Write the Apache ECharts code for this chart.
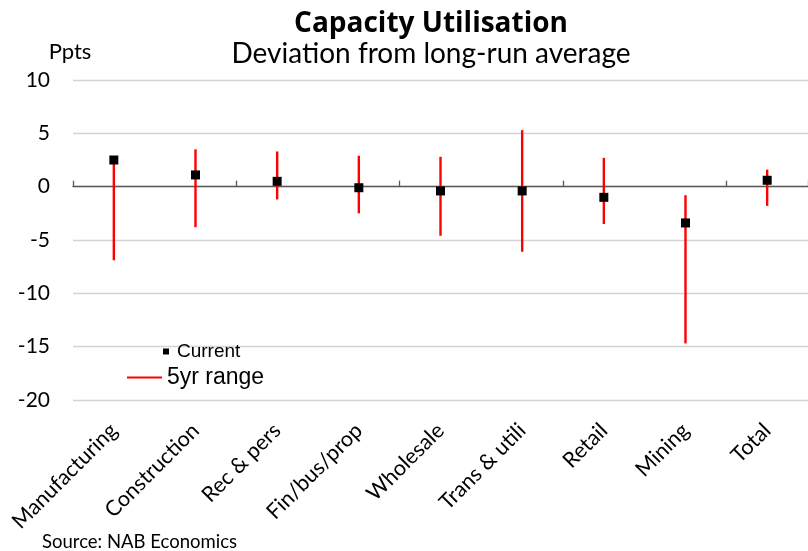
<!DOCTYPE html>
<html>
<head>
<meta charset="utf-8">
<script src="https://cdn.jsdelivr.net/npm/echarts@6/dist/echarts.min.js"></script>
<style>
html,body{margin:0;padding:0;background:#fff;}
#chart{width:808px;height:551px;}
</style>
</head>
<body>
<div id="chart"></div>
<script>
const categories = ['Manufacturing','Construction','Rec & pers','Fin/bus/prop','Wholesale','Trans & utili','Retail','Mining','Total'];
const current = [2.5, 1.1, 0.5, -0.1, -0.4, -0.4, -1.0, -3.4, 0.6];
const rangeHigh = [2.5, 3.5, 3.3, 2.9, 2.8, 5.3, 2.7, -0.8, 1.6];
const rangeLow = [-6.9, -3.8, -1.2, -2.5, -4.6, -6.1, -3.5, -14.7, -1.8];
const yTicks = {min: -20, max: 10, interval: 5};

const chart = echarts.init(document.getElementById('chart'), null, {renderer: 'canvas'});
const option = {
  animation: false,
  backgroundColor: '#fff',
  graphic: [
    {type: 'text', x: 431, y: 10, style: {text: 'Capacity Utilisation', font: 'bold 28px "Open Sans"', fill: '#000', textAlign: 'center', textVerticalAlign: 'top'}},
    {type: 'text', x: 431, y: 40, style: {text: 'Deviation from long-run average', font: '28px Lato', fill: '#000', textAlign: 'center', textVerticalAlign: 'top'}},
    {type: 'text', x: 42, y: 533, style: {text: 'Source: NAB Economics', font: '18.5px Lato', fill: '#000', textAlign: 'left', textVerticalAlign: 'top'}}
  ],
  legend: [
    {
      data: [{name: 'Current', icon: 'rect'}],
      left: 163, top: 342, itemWidth: 6, itemHeight: 6, padding: 0,
      textStyle: {fontFamily: 'Liberation Sans', fontSize: 19, color: '#000', padding: [0,0,0,3]}
    },
    {
      data: [{name: '5yr range', icon: 'rect'}],
      left: 127, top: 366, itemWidth: 35, itemHeight: 2, padding: 0,
      textStyle: {fontFamily: 'Liberation Sans', fontSize: 23, color: '#000'}
    }
  ],
  grid: {left: 73, top: 80, width: 738, height: 320, containLabel: false},
  xAxis: [
    {
      type: 'category', data: categories, boundaryGap: true,
      axisLine: {onZero: true, lineStyle: {color: '#595959', width: 1.3}},
      axisTick: {show: true, inside: true, length: 6, lineStyle: {color: '#595959', width: 1.3}},
      axisLabel: {show: false}, splitLine: {show: false}
    },
    {
      type: 'category', data: categories, position: 'bottom', boundaryGap: true,
      axisLine: {show: false, onZero: false}, axisTick: {show: false},
      axisLabel: {show: true, rotate: 45, margin: 27, interval: 0, fontFamily: 'Lato', fontSize: 21.5, color: '#000'},
      splitLine: {show: false}
    }
  ],
  yAxis: {
    type: 'value', min: yTicks.min, max: yTicks.max, interval: yTicks.interval,
    name: 'Ppts', nameLocation: 'end', nameGap: 17,
    nameTextStyle: {fontFamily: 'Lato', fontSize: 22, color: '#000', padding: [0, 6, 0, 0]},
    axisLine: {show: false}, axisTick: {show: false},
    axisLabel: {margin: 23, fontFamily: 'Lato', fontSize: 21, color: '#000'},
    splitLine: {lineStyle: {color: '#d4d4d4', width: 1.3}}
  },
  series: [
    {
      name: '5yr range', type: 'custom', xAxisIndex: 0,
      itemStyle: {color: '#ff0000'},
      data: categories.map((c, i) => [i, rangeHigh[i], rangeLow[i]]),
      encode: {x: 0, y: [1, 2]},
      renderItem: function (params, api) {
        const i = api.value(0);
        const hi = api.coord([i, api.value(1)]);
        const lo = api.coord([i, api.value(2)]);
        return {type: 'line', shape: {x1: hi[0], y1: hi[1], x2: lo[0], y2: lo[1]}, style: {stroke: '#ff0000', lineWidth: 2.4}};
      },
      z: 2
    },
    {
      name: 'Current', type: 'scatter', xAxisIndex: 0,
      symbol: 'rect', symbolSize: 9,
      itemStyle: {color: '#000', opacity: 1},
      data: current, z: 3
    }
  ]
};
chart.setOption(option);
</script>
</body>
</html>
